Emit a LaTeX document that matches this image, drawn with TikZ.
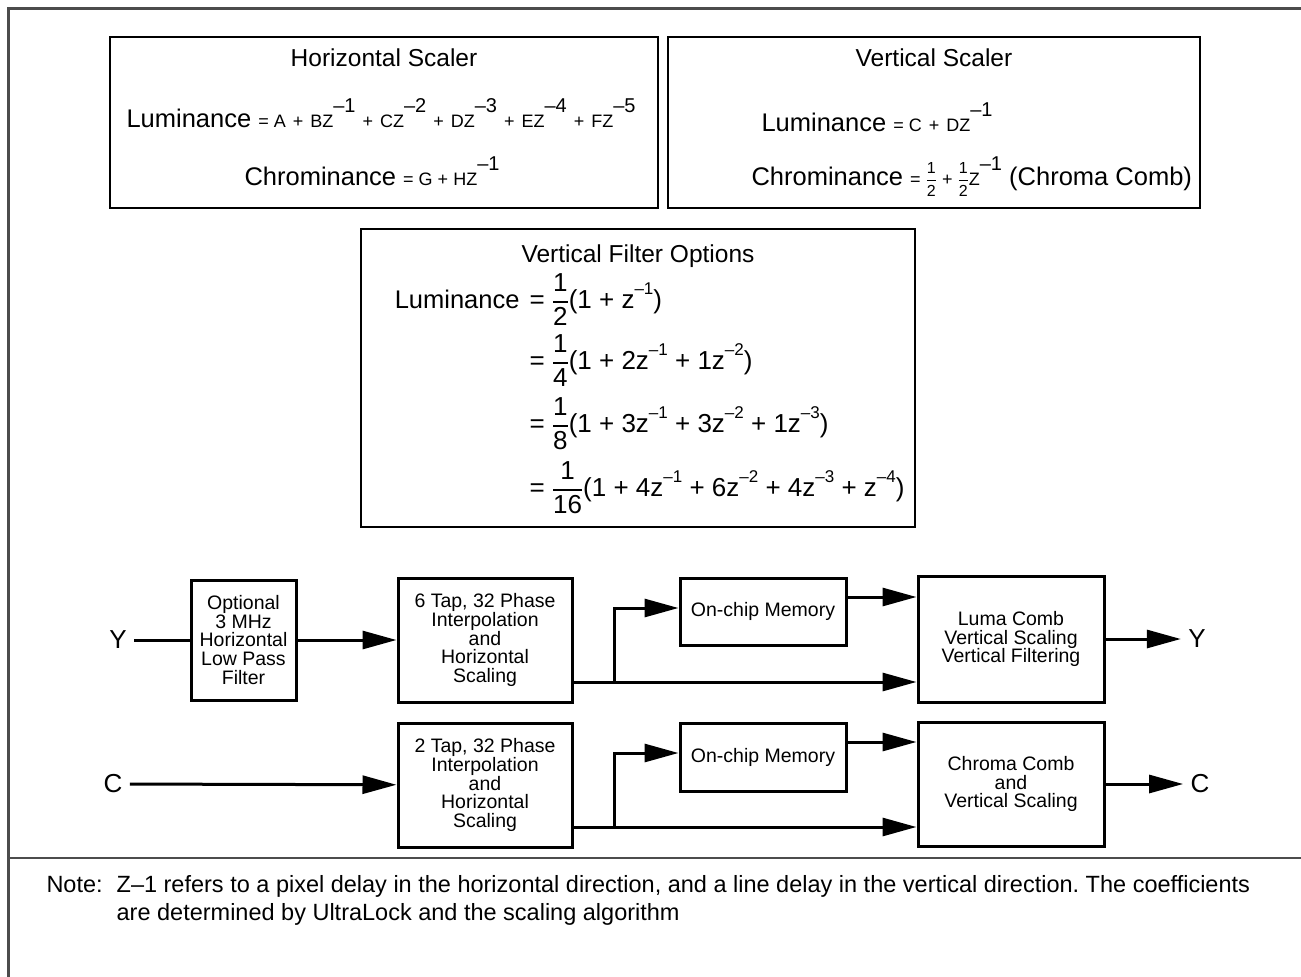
\documentclass[tikz,border=0pt]{standalone}
\usepackage{fontspec}
\usepackage{amsmath}
\setmainfont{Liberation Sans}
\usetikzlibrary{arrows.meta}
\frenchspacing

\newcommand\titlefont{\fontsize{24.5}{28}\selectfont}
\newcommand\lumfont{\fontsize{25.5}{30}\selectfont}
\newcommand\eqfont{\fontsize{18}{20}\selectfont}
\newcommand\vfofont{\fontsize{26}{30}\selectfont}
\newcommand\blockfont{\fontsize{19.5}{18.7}\selectfont}
\newcommand\iofont{\fontsize{26}{30}\selectfont}
\newcommand\notefont{\fontsize{23.5}{28}\selectfont}
% raised exponents and spaced plus
\newcommand\zsup[1]{\raisebox{15pt}{\fontsize{20}{20}\selectfont#1}}
\newcommand\vsup[1]{\raisebox{14pt}{\fontsize{17}{17}\selectfont#1}}
\newcommand\pls{\hspace{7pt}+\hspace{7pt}}
% stacked fractions
\newcommand\vfrac[2]{\(\genfrac{}{}{1.6pt}{0}{\text{#1}}{\text{#2}}\)}
\newcommand\smallfrac[2]{{\fontsize{16}{17}\selectfont\(\genfrac{}{}{1pt}{0}{\text{#1}}{\text{#2}}\)}}

\begin{document}
\begin{tikzpicture}[x=1pt,y=-1pt,line width=3pt,
>={Triangle[length=34pt,width=18pt]},
frame/.style={draw=black!70,line width=3pt},
panel/.style={draw,rectangle,line width=1.5pt,inner sep=0pt},
sysblock/.style={draw,rectangle,line width=3pt,align=center,font=\blockfont,inner sep=2pt},
iolabel/.style={font=\iofont,inner sep=6pt},
eqtext/.style={inner sep=0pt,font=\lumfont}]

\useasboundingbox (0,0) rectangle (1301,977);

% outer frame and note separator
\draw[frame] (1301,8) -- (8,8) -- (8,977);
\draw[frame,line width=2.5pt] (8,858) -- (1301,858);

% horizontal scaler
\draw (384,122.5) node[panel,minimum width=548pt,minimum height=171pt] (hscal) {};
\draw (384,66) node[anchor=base,font=\titlefont] (hscaltitle) {Horizontal Scaler};
\draw (125,127) node[eqtext,anchor=base west] (hluma)
  {Luminance {\eqfont= A\pls BZ\zsup{–1}\pls CZ\zsup{–2}\pls DZ\zsup{–3}\pls EZ\zsup{–4}\pls FZ\zsup{–5}}};
\draw (243,185) node[eqtext,anchor=base west] (hchroma)
  {Chrominance {\eqfont= G + HZ\zsup{–1}}};

% vertical scaler
\draw (934,122.5) node[panel,minimum width=532pt,minimum height=171pt] (vscal) {};
\draw (934,66) node[anchor=base,font=\titlefont] (vscaltitle) {Vertical Scaler};
\draw (760,131) node[eqtext,anchor=base west] (vluma)
  {Luminance {\eqfont= C\pls DZ\zsup{–1}}};
\draw (750,185) node[eqtext,anchor=base west] (vchroma)
  {Chrominance {\eqfont= \smallfrac{1}{2} + \smallfrac{1}{2}Z\zsup{–1}} (Chroma Comb)};

% vertical filter options
\draw (638,378) node[panel,minimum width=554pt,minimum height=298pt] (vfo) {};
\draw (638,262) node[anchor=base,font=\titlefont] (vfotitle) {Vertical Filter Options};
\draw (521,308) node[eqtext,anchor=base east] (vfoluma) {Luminance};
\draw (528,308) node[eqtext,anchor=base west,font=\vfofont] (vfoa)
  {= \vfrac{1}{2}(1 + z\vsup{–1})};
\draw (528,369) node[eqtext,anchor=base west,font=\vfofont] (vfob)
  {= \vfrac{1}{4}(1 + 2z\vsup{–1} + 1z\vsup{–2})};
\draw (528,432) node[eqtext,anchor=base west,font=\vfofont] (vfoc)
  {= \vfrac{1}{8}(1 + 3z\vsup{–1} + 3z\vsup{–2} + 1z\vsup{–3})};
\draw (528,496) node[eqtext,anchor=base west,font=\vfofont] (vfod)
  {= \vfrac{1}{16}(1 + 4z\vsup{–1} + 6z\vsup{–2} + 4z\vsup{–3} + z\vsup{–4})};

% luma path
\draw (118,640) node[iolabel] (yin) {Y};
\draw (243.5,640) node[sysblock,minimum width=105pt,minimum height=120pt] (lpf)
  {Optional\\3 MHz\\Horizontal\\Low Pass\\Filter};
\draw (485,640) node[sysblock,minimum width=174pt,minimum height=124pt] (htapy)
  {6 Tap, 32 Phase\\Interpolation\\and\\Horizontal\\Scaling};
\draw (763,611.5) node[sysblock,minimum width=166pt,minimum height=67pt] (memy) {On-chip Memory};
\draw (1011,639) node[sysblock,minimum width=186pt,minimum height=126pt] (luma)
  {Luma Comb\\Vertical Scaling\\Vertical Filtering};
\draw (1197,639) node[iolabel] (yout) {Y};
\coordinate (ysplit) at (614,682);

\draw (yin) -- (lpf);
\draw[->] (lpf) -- (htapy);
\draw (htapy.east |- ysplit) -- (ysplit);
\draw[->] (ysplit) -- (ysplit -| luma.west);
\draw[->] (ysplit) |- ([yshift=3.5pt]memy.west);
\draw[->] ([yshift=14.5pt]memy.east) -- ([yshift=14.5pt]memy.east -| luma.west);
\draw[->] (luma) -- (yout);

% chroma path
\draw (113,784) node[iolabel] (cin) {C};
\draw (485,785) node[sysblock,minimum width=174pt,minimum height=124pt] (htapc)
  {2 Tap, 32 Phase\\Interpolation\\and\\Horizontal\\Scaling};
\draw (763,757) node[sysblock,minimum width=166pt,minimum height=68pt] (memc) {On-chip Memory};
\draw (1011,784) node[sysblock,minimum width=186pt,minimum height=124pt] (chroma)
  {Chroma Comb\\and\\Vertical Scaling};
\draw (1200,784) node[iolabel] (cout) {C};
\coordinate (csplit) at (614,827);

\draw[->] (cin) -- (htapc);
\draw (htapc.east |- csplit) -- (csplit);
\draw[->] (csplit) -- (csplit -| chroma.west);
\draw[->] (csplit) |- ([yshift=4pt]memc.west);
\draw[->] ([yshift=15pt]memc.east) -- ([yshift=15pt]memc.east -| chroma.west);
\draw[->] (chroma) -- (cout);

% note
\draw (45,892) node[anchor=base west,inner sep=0pt,font=\notefont] (note)
  {\begin{tabular}[t]{@{}l@{\hspace{14pt}}l@{}}
   Note: & Z–1 refers to a pixel delay in the horizontal direction, and a line delay in the vertical direction. The coefficients\\
         & are determined by UltraLock and the scaling algorithm
   \end{tabular}};
\end{tikzpicture}
\end{document}
